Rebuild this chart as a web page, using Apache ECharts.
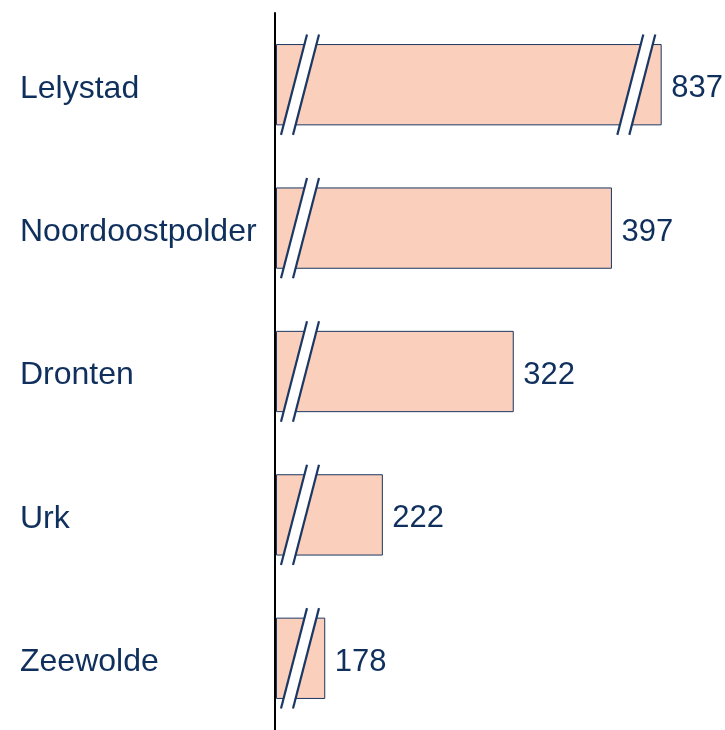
<!DOCTYPE html>
<html><head><meta charset="utf-8">
<script src="https://cdn.jsdelivr.net/npm/echarts@6/dist/echarts.min.js"></script>
<style>html,body{margin:0;padding:0;background:#fff}#c{width:725px;height:730px}</style>
</head><body><div id="c"></div>
<script>
const categories = ['Lelystad', 'Noordoostpolder', 'Dronten', 'Urk', 'Zeewolde'];
const values = [837, 397, 322, 222, 178];
const axisStart = 140;          // value where the (broken) axis begins
const breakFrom = 416, breakTo = 818; // scale break used for the long bar

const NAVY = '#0F2F5C';
const BORDER = '#1B3763';
const FILL = '#FACFBB';
const FONT = '"Liberation Sans", Arial, sans-serif';

function shown(v) { return v > breakTo ? v - (breakTo - breakFrom) : v; }

const chart = echarts.init(document.getElementById('c'), null, {renderer: 'canvas'});

function breakMark(cx, y0, y1) {
  const ext = 10, top = y0 - ext, bot = y1 + ext, gap = 6, dx = 13;
  const l1 = [[cx - gap + dx, top], [cx - gap - dx, bot]];
  const l2 = [[cx + gap + dx, top], [cx + gap - dx, bot]];
  return [
    {type: 'polygon', shape: {points: [l1[0], l2[0], l2[1], l1[1]]}, style: {fill: '#fff'}},
    {type: 'line', shape: {x1: l1[0][0], y1: l1[0][1], x2: l1[1][0], y2: l1[1][1]}, style: {stroke: BORDER, lineWidth: 2.2}},
    {type: 'line', shape: {x1: l2[0][0], y1: l2[0][1], x2: l2[1][0], y2: l2[1][1]}, style: {stroke: BORDER, lineWidth: 2.2}}
  ];
}

chart.setOption({
  animation: false,
  grid: {left: 275, top: 13, height: 723, right: 18},
  xAxis: {type: 'value', min: axisStart, max: 470, show: false},
  yAxis: {
    type: 'category', data: categories, inverse: true,
    axisLine: {lineStyle: {color: '#000', width: 2}},
    axisTick: {show: false},
    axisLabel: {
      align: 'left', margin: 255,
      formatter: '{a|{value}}',
      rich: {a: {fontSize: 32, color: NAVY, fontFamily: FONT, padding: [8, 0, 0, 0]}}
    }
  },
  series: [{
    type: 'custom',
    encode: {y: 0, x: 1},
    data: values.map((v, i) => [i, v]),
    z: 1,
    renderItem: function (params, api) {
      const idx = api.value(0), v = api.value(1);
      const s = api.coord([axisStart, idx]);
      const e = api.coord([shown(v), idx]);
      const h = api.size([0, 1])[1] * 0.56;
      const y0 = s[1] - h / 2, y1 = s[1] + h / 2;
      let children = [{
        type: 'rect',
        shape: {x: s[0] + 1.5, y: y0, width: e[0] - s[0] - 1.5, height: h},
        style: {fill: FILL, stroke: BORDER, lineWidth: 1}
      }];
      children = children.concat(breakMark(s[0] + 25, y0, y1));
      if (v > breakTo) {
        children = children.concat(breakMark(api.coord([breakFrom, idx])[0], y0, y1));
      }
      children.push({
        type: 'text',
        style: {text: String(v), x: e[0] + 10, y: s[1] + 4, verticalAlign: 'middle', align: 'left',
                font: '31px ' + FONT, fill: NAVY}
      });
      return {type: 'group', children: children};
    }
  }]
});
</script>
</body></html>
